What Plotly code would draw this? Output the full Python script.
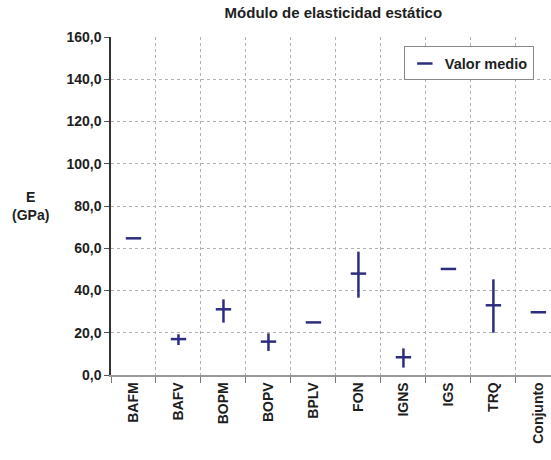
import plotly.graph_objects as go

categories = ["BAFM", "BAFV", "BOPM", "BOPV", "BPLV", "FON", "IGNS", "IGS", "TRQ", "Conjunto"]
mean_vals = [64.7, 17.0, 31.1, 15.8, 24.9, 48.0, 8.4, 50.2, 33.0, 29.7]
max_vals = [64.7, 19.3, 35.8, 19.7, 24.9, 58.4, 12.6, 50.2, 45.3, 29.7]
min_vals = [64.7, 14.2, 24.8, 11.4, 24.9, 36.6, 3.5, 50.2, 20.0, 29.7]
y_ticks = [0, 20, 40, 60, 80, 100, 120, 140, 160]

xpos = list(range(len(categories)))
navy = "#2d2d80"
font_fam = "Arial, Liberation Sans, sans-serif"
txt = "#1e1e1e"

fig = go.Figure()
fig.add_trace(go.Scatter(
    x=xpos, y=mean_vals, mode="markers", name="Valor medio",
    marker=dict(symbol="line-ew", size=11, line=dict(color=navy, width=2.5), color=navy),
    error_y=dict(type="data", symmetric=False,
                 array=[mx - m for mx, m in zip(max_vals, mean_vals)],
                 arrayminus=[m - mn for m, mn in zip(mean_vals, min_vals)],
                 color=navy, thickness=2.5, width=0),
))

fig.update_layout(
    width=551, height=460,
    margin=dict(l=111, r=0, t=37, b=85),
    paper_bgcolor="white", plot_bgcolor="white",
    separators=",.",
    font=dict(family=font_fam, size=14, color=txt),
    title=dict(text="Módulo de elasticidad estático", x=0.605, xanchor="center", y=0.972, yanchor="middle",
               font=dict(size=15, weight="bold", color=txt)),
    showlegend=True,
    legend=dict(x=0.961, xanchor="right", y=0.972, yanchor="top",
                bordercolor="#888888", borderwidth=1, bgcolor="white",
                font=dict(size=14.5, weight="bold", color=txt),
                itemwidth=30, tracegroupgap=0),
    xaxis=dict(range=[-0.5, 9.28], tickvals=xpos, ticktext=categories, tickangle=-90,
               showgrid=False, ticks="", zeroline=False,
               showline=True, linecolor="#999999", linewidth=1.5,
               tickfont=dict(size=14, weight="bold", color=txt),
               minor=dict(tickmode="linear", tick0=-0.5, dtick=1, showgrid=True,
                          griddash="dot", gridcolor="#b0b0b0", gridwidth=1,
                          ticks="outside", ticklen=6, tickcolor="#777777")),
    yaxis=dict(range=[0, 160], tickvals=y_ticks, tickformat=".1f",
               showgrid=True, griddash="dot", gridcolor="#b0b0b0", gridwidth=1,
               zeroline=False, showline=True, linecolor="#333333", linewidth=1.5,
               ticks="outside", ticklen=5, tickcolor="#555555",
               tickfont=dict(size=14, weight="bold", color=txt)),
)

fig.add_annotation(text="E<br>(GPa)", xref="paper", yref="paper", x=-0.184, y=0.5,
                   showarrow=False, xanchor="center", yanchor="middle",
                   font=dict(size=14, weight="bold", color=txt))

fig.write_html("out.html", config={"displayModeBar": False},
               post_script="document.body.style.margin='0px';")
